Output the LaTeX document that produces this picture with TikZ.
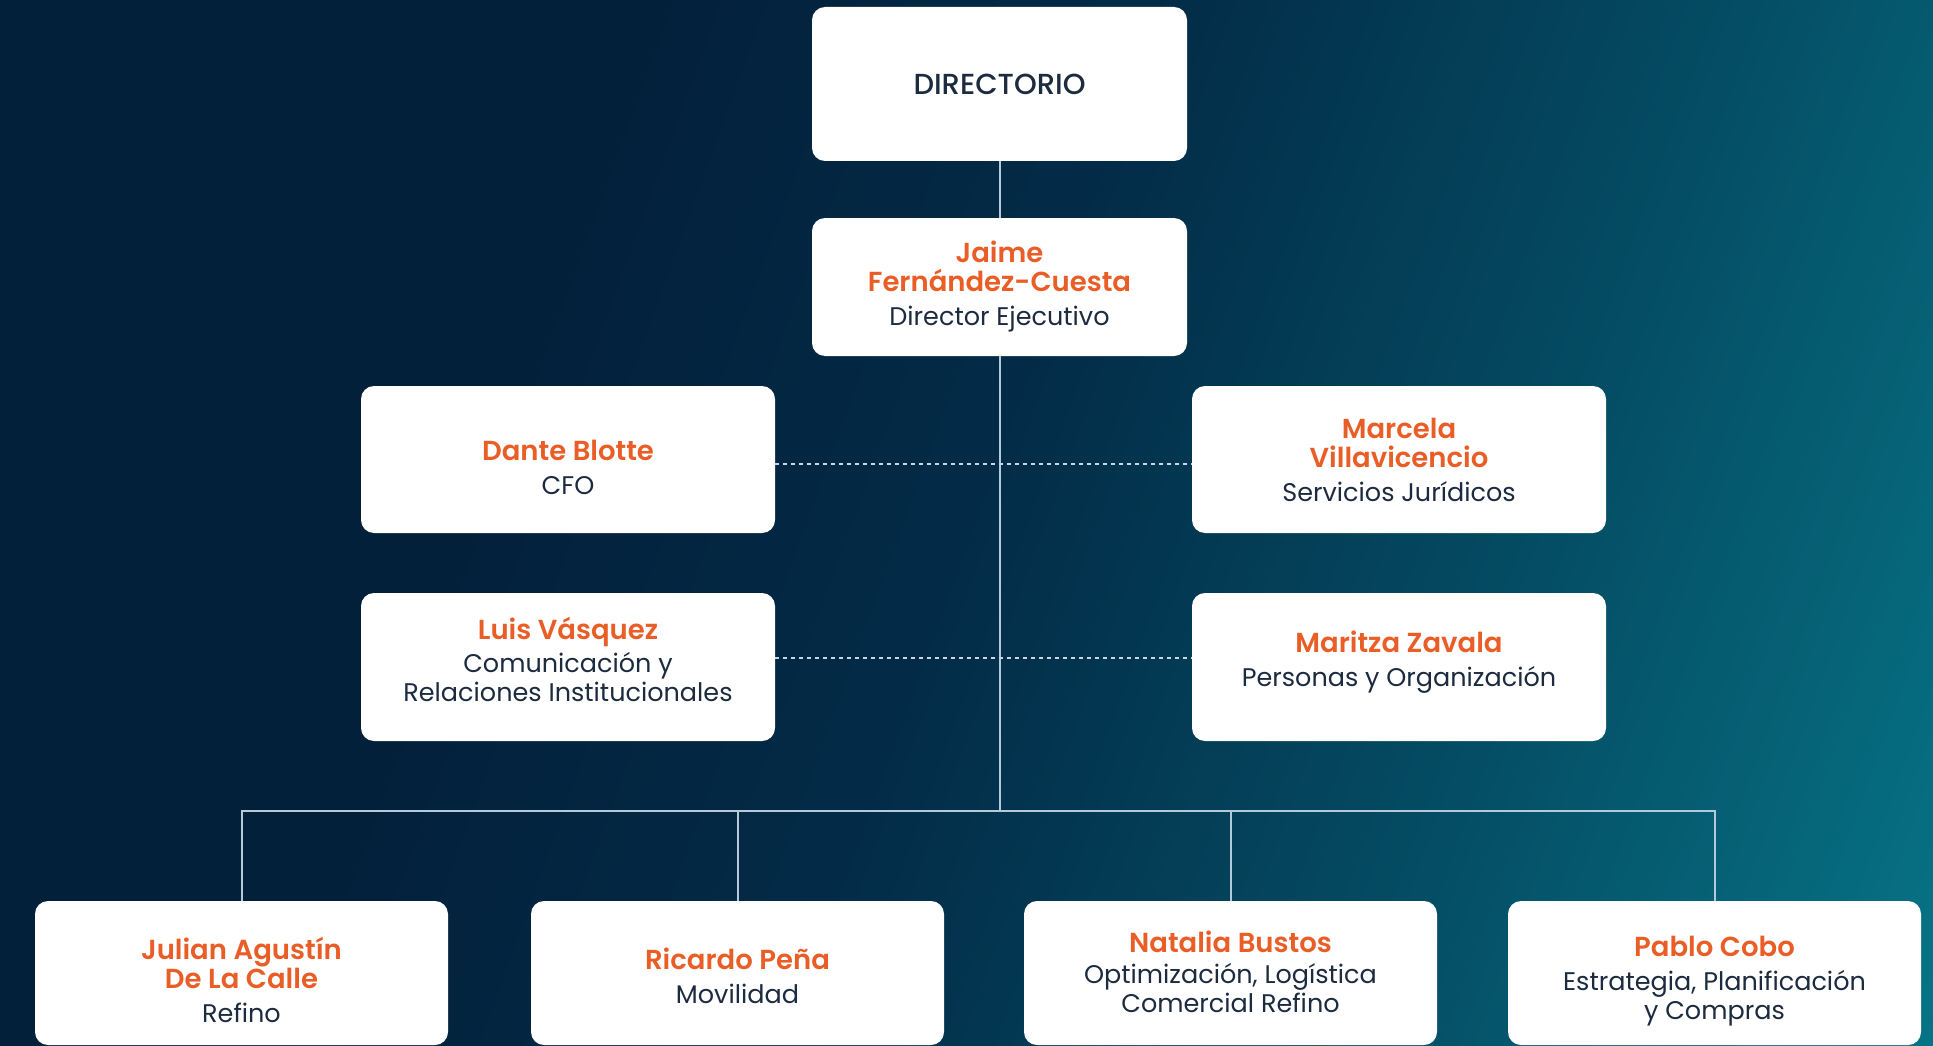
\documentclass[tikz,border=0pt]{standalone}
\usepackage{fontspec}
\setmainfont{Poppins}
\newfontfamily\nmfont{Poppins}[UprightFont=* SemiBold]
\newfontfamily\mdfont{Poppins}[UprightFont=* Medium]
\definecolor{bgnavy}{HTML}{03203B}
\definecolor{bgmid}{HTML}{032B47}
\definecolor{bgtr}{HTML}{044A61}
\definecolor{bgbr}{HTML}{077386}
\definecolor{nameor}{HTML}{E95E26}
\definecolor{subnavy}{HTML}{1C2B3F}
\definecolor{linec}{HTML}{B4CADB}
\definecolor{dashc}{HTML}{C8D8E3}
\pgfdeclarehorizontalshading{bgshade}{100bp}{color(0bp)=(bgnavy); color(36bp)=(bgnavy); color(50bp)=(bgmid); color(65bp)=(bgtr); color(82bp)=(bgbr); color(100bp)=(bgbr)}
\tikzset{
  card/.style={draw=none, fill=white, rounded corners=13pt, inner sep=0pt},
  cardmid/.style={card, minimum width=414pt, minimum height=147pt},
  cardbot/.style={card, minimum width=413pt, minimum height=144pt},
  cardtxt/.style={align=center, inner sep=0pt, text=subnavy,
    font={\fontsize{25.5}{29}\selectfont}},
  solidcon/.style={draw=linec, line width=2pt},
  dashcon/.style={draw=dashc, line width=2pt, dash pattern=on 4pt off 4pt}
}
\newcommand{\pname}[1]{{\nmfont\fontsize{27.5}{29}\selectfont\color{nameor}#1}}
\begin{document}
\begin{tikzpicture}[x=1pt, y=-1pt]
\useasboundingbox (0,0) rectangle (1933,1046);
\shade[shading=bgshade, shading angle=-20] (0,0) rectangle (1933,1046);

% boxes
\node[card, minimum width=375pt, minimum height=154pt] (dir) at (999.5,84) {};
\node[card, minimum width=375pt, minimum height=138pt] (ceo) at (999.5,287) {};
\node[cardmid] (dante) at (568,459.5) {};
\node[cardmid] (marcela) at (1399,459.5) {};
\node[cardmid, minimum height=148pt] (luis) at (568,667) {};
\node[cardmid, minimum height=148pt] (maritza) at (1399,667) {};
\node[cardbot] (julian) at (241.5,973) {};
\node[cardbot] (ricardo) at (737.5,973) {};
\node[cardbot] (natalia) at (1230.5,973) {};
\node[cardbot] (pablo) at (1714.5,973) {};

% texts
\node[cardtxt] (dirT) at (999.5,84)
  {{\mdfont\fontsize{29}{29}\selectfont DIRECTORIO}};
\node[cardtxt] (ceoT) at (999.5,287)
  {\pname{Jaime}\\\pname{Fernández-Cuesta}\\[5pt]Director Ejecutivo};
\node[cardtxt] (danteT) at (568,467) {\pname{Dante Blotte}\\[5pt]CFO};
\node[cardtxt] (marcelaT) at (1399,460)
  {\pname{Marcela}\\\pname{Villavicencio}\\[5pt]Servicios Jurídicos};
\node[cardtxt] (luisT) at (568,659)
  {\pname{Luis Vásquez}\\[4pt]Comunicación y\\Relaciones Institucionales};
\node[cardtxt] (maritzaT) at (1399,662)
  {\pname{Maritza Zavala}\\[5pt]Personas y Organización};
\node[cardtxt] (julianT) at (241.5,980)
  {\pname{Julian Agustín}\\\pname{De La Calle}\\[5pt]Refino};
\node[cardtxt] (ricardoT) at (737.5,975.5)
  {\pname{Ricardo Peña}\\[5pt]Movilidad};
\node[cardtxt] (nataliaT) at (1230.5,972)
  {\pname{Natalia Bustos}\\[2pt]Optimización, Logística\\Comercial Refino};
\node[cardtxt] (pabloT) at (1714.5,981)
  {\pname{Pablo Cobo}\\[5pt]Estrategia, Planificación\\y Compras};

\coordinate (bus) at (999.5,811);

\draw[solidcon] (dir.south) -- (ceo.north);
\draw[solidcon] (ceo.south) -- (bus);
\draw[solidcon] (julian.north) -- (julian.north |- bus) -- (pablo.north |- bus) -- (pablo.north);
\draw[solidcon] (ricardo.north) -- (ricardo.north |- bus);
\draw[solidcon] (natalia.north) -- (natalia.north |- bus);
\draw[dashcon] ([yshift=-4pt]dante.east) -- ([yshift=-4pt]marcela.west);
\draw[dashcon] ([yshift=9pt]luis.east) -- ([yshift=9pt]maritza.west);
\end{tikzpicture}
\end{document}
